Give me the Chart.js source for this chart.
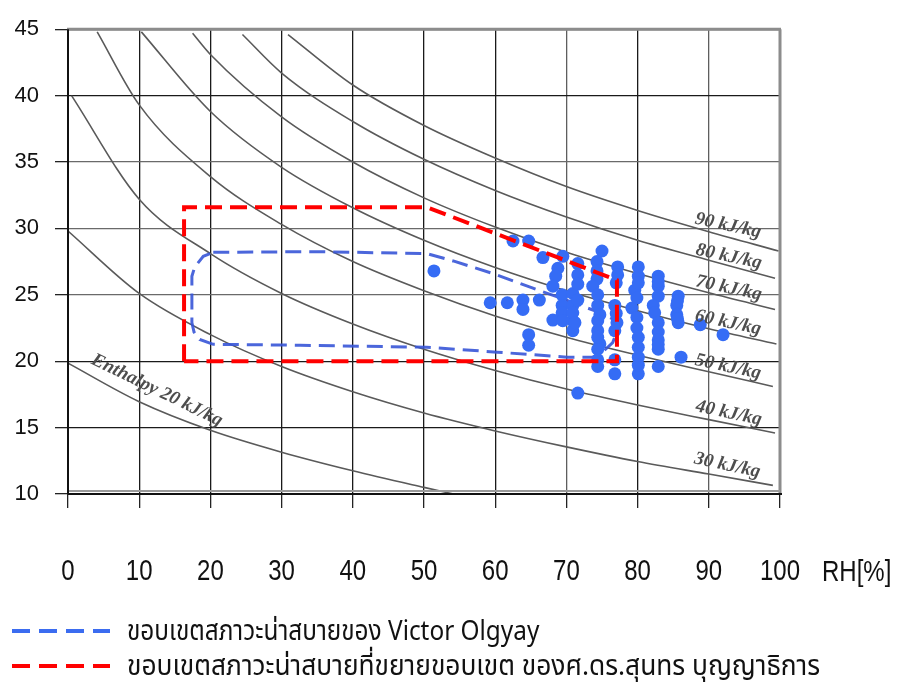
<!DOCTYPE html>
<html>
<head>
<meta charset="utf-8">
<script src="https://cdn.jsdelivr.net/npm/chart.js@4/dist/chart.umd.min.js"></script>
<style>
  html, body { margin: 0; padding: 0; background: #fff; }
  #wrap { position: relative; width: 899px; height: 684px; }
  #chart { position: absolute; left: 0; top: 0; }
  .axis-title { position: absolute; left: 822px; top: 553px; font-family: 'Liberation Sans', Arial, sans-serif; font-size: 30px; color: #111; line-height: 36px; transform: scaleX(0.8); transform-origin: left center; white-space: nowrap; }
  .legend-row { position: absolute; left: 12px; height: 36px; display: flex; align-items: center; }
  .legend-dash { width: 98px; height: 4px; margin-right: 17px; flex: none; }
  .legend-text { font-family: 'Noto Sans Thai', 'Loma', 'Garuda', 'Tlwg Typo', 'DejaVu Sans', sans-serif; font-size: 28px; color: #111; white-space: nowrap; transform-origin: left center; }
</style>
</head>
<body>
<div id="wrap">
  <canvas id="chart" width="899" height="684"></canvas>
  <div class="axis-title">RH[%]</div>
  <div class="legend-row" style="top:613px">
    <div class="legend-dash" style="background: repeating-linear-gradient(to right, #3b6cf0 0 18px, transparent 18px 27px);"></div>
    <div class="legend-text" style="transform: scaleX(0.87);">ขอบเขตสภาวะน่าสบายของ Victor Olgyay</div>
  </div>
  <div class="legend-row" style="top:648px">
    <div class="legend-dash" style="background: repeating-linear-gradient(to right, #ff0000 0 18px, transparent 18px 27px);"></div>
    <div class="legend-text" style="transform: scaleX(0.94);">ขอบเขตสภาวะน่าสบายที่ขยายขอบเขต ของศ.ดร.สุนทร บุญญาธิการ</div>
  </div>
</div>
<script>
// Axis ticks
const rhTicks = [0, 10, 20, 30, 40, 50, 60, 70, 80, 90, 100];
const tempTicks = [10, 15, 20, 25, 30, 35, 40, 45];

// Constant-enthalpy lines: [RH %, dry-bulb °C]
const enthalpy20 = [[0, 19.85], [10, 16.95], [20, 14.8], [30, 13.15], [40, 11.75], [50, 10.5], [55, 9.9]];
const enthalpy30 = [[0, 29.8], [10, 25.1], [20, 22.0], [30, 19.6], [40, 17.7], [50, 16.1], [60, 14.75], [70, 13.55], [80, 12.45], [90, 11.5], [99, 10.65]];
const enthalpy40 = [[0.5, 40.0], [10, 32.2], [20, 28.1], [30, 25.1], [40, 22.8], [50, 20.9], [60, 19.3], [70, 17.9], [80, 16.7], [90, 15.6], [99.3, 14.6]];
const enthalpy50 = [[4.1, 44.8], [10, 39.3], [20, 33.9], [30, 30.3], [40, 27.5], [50, 25.3], [60, 23.4], [70, 21.8], [80, 20.45], [90, 19.2], [99, 18.1]];
const enthalpy60 = [[10.3, 44.8], [20, 38.8], [30, 34.6], [40, 31.55], [50, 29.1], [60, 27.05], [70, 25.3], [80, 23.8], [90, 22.45], [99.5, 21.3]];
const enthalpy70 = [[17.5, 44.7], [20, 43.1], [30, 38.4], [40, 35.0], [50, 32.3], [60, 30.1], [70, 28.2], [80, 26.6], [90, 25.15], [99.3, 23.9]];
const enthalpy80 = [[24.5, 44.6], [30, 41.7], [40, 38.05], [50, 35.2], [60, 32.85], [70, 30.85], [80, 29.1], [90, 27.6], [99.3, 26.25]];
const enthalpy90 = [[30.9, 44.6], [40, 40.8], [50, 37.75], [60, 35.3], [70, 33.15], [80, 31.35], [90, 29.75], [99.8, 28.3]];
const enthalpyLines = [enthalpy20, enthalpy30, enthalpy40, enthalpy50, enthalpy60, enthalpy70, enthalpy80, enthalpy90];

// Enthalpy line captions and where they sit (RH, °C, rotation in degrees)
const enthalpyCaptions = ['Enthalpy 20 kJ/kg', '30 kJ/kg', '40 kJ/kg', '50 kJ/kg', '60 kJ/kg', '70 kJ/kg', '80 kJ/kg', '90 kJ/kg'];
const captionRH = [12.5, 92.6, 92.8, 92.7, 92.7, 92.8, 92.8, 92.7];
const captionTemp = [17.8, 12.15, 16.08, 19.57, 22.9, 25.5, 27.87, 30.2];
const captionAngle = [26, 12, 12, 12, 12, 12, 12, 12];

// Measured conditions
const measuredRH = [51.4, 59.3, 61.7, 63.9, 63.9, 66.2, 62.5, 64.7, 66.7, 69.5, 71.6, 71.6, 68.8, 68.5, 68.1, 69.4, 70.9, 69.4, 69.4, 68.1,
  69.5, 70.9, 70.9, 64.7, 64.7, 71.6, 75.0, 74.3, 74.3, 74.3, 73.7, 70.9, 70.9, 71.2, 74.4, 74.4, 74.7, 74.4, 74.4, 74.7,
  74.4, 74.4, 74.4, 77.2, 77.2, 76.8, 77.1, 76.8, 76.8, 76.8, 80.1, 80.1, 79.6, 79.9, 79.2, 79.9, 79.9, 80.1, 80.1, 80.1,
  80.1, 82.9, 82.9, 82.9, 82.2, 82.4, 82.9, 82.9, 82.9, 82.9, 82.9, 85.7, 85.5, 85.5, 85.7, 86.1, 88.8, 92.0,
  74.4, 80.1, 80.1, 82.9, 82.9, 85.6, 85.6, 77.0, 77.0, 71.6, 71.6];
const measuredTemp = [26.8, 24.4, 24.4, 24.6, 23.9, 24.6, 29.05, 29.05, 27.8, 27.9, 27.35, 26.5, 27.0, 26.4, 25.65, 25.0, 25.1, 24.2, 23.65, 23.1,
  23.05, 23.05, 22.3, 22.0, 21.2, 17.6, 28.3, 27.5, 26.8, 26.2, 25.65, 24.2, 23.65, 22.9, 25.0, 24.2, 23.5, 23.05, 22.3, 21.3,
  20.9, 20.1, 19.6, 27.1, 26.5, 24.2, 22.9, 22.3, 20.1, 19.05, 27.1, 26.4, 25.35, 24.76, 24.0, 23.3, 22.5, 21.8, 21.05, 20.3,
  19.05, 26.4, 25.65, 24.9, 24.2, 23.65, 22.9, 22.2, 21.6, 20.9, 19.6, 24.9, 24.2, 23.5, 22.9, 20.3, 22.75, 22.0,
  21.8, 25.9, 19.7, 26.0, 21.25, 24.55, 23.2, 23.6, 25.9, 25.8, 24.6];

// Comfort zone of Victor Olgyay (closed outline)
const olgyayRH = [20.4, 35, 50.4, 54.1, 59.7, 65.3, 70.5, 74.5, 76.8, 77.1, 76.5, 75.1, 73.7, 70.1, 60.3, 50.4, 32.6, 20.4, 18.5, 17.7, 17.4, 17.4, 17.8, 19.0, 20.4];
const olgyayTemp = [28.2, 28.25, 28.1, 27.55, 26.6, 25.5, 24.5, 23.7, 23.1, 22.2, 21.4, 20.7, 20.3, 20.3, 20.68, 21.05, 21.2, 21.27, 21.64, 22.2, 22.9, 26.4, 27.1, 27.9, 28.2];

// Extended comfort zone (closed outline)
const extendedRH = [16.3, 16.3, 50.4, 77.1, 77.1, 16.3];
const extendedTemp = [20.0, 31.6, 31.6, 26.1, 20.0, 20.0];

const toPoints = (xs, ys) => xs.map((x, i) => ({ x: x, y: ys[i] }));
const pairsToPoints = pairs => pairs.map(p => ({ x: p[0], y: p[1] }));

const datasets = [];
enthalpyLines.forEach(line => {
  datasets.push({
    type: 'line', data: pairsToPoints(line), borderColor: '#5a5a5a', borderWidth: 1.6,
    pointRadius: 0, cubicInterpolationMode: 'monotone', fill: false, order: 4
  });
});
datasets.push({
  type: 'line', data: toPoints(olgyayRH, olgyayTemp), borderColor: 'rgba(55,85,215,0.9)', borderWidth: 3,
  borderDash: [16, 8], pointRadius: 0, tension: 0, fill: false, order: 3
});
datasets.push({
  type: 'scatter', data: toPoints(measuredRH, measuredTemp), backgroundColor: '#356cf5', borderWidth: 0,
  pointRadius: 6.5, pointHoverRadius: 6.5, order: 2
});
datasets.push({
  type: 'line', data: toPoints(extendedRH, extendedTemp), borderColor: '#ff0000', borderWidth: 4,
  borderDash: [17, 8], pointRadius: 0, tension: 0, fill: false, order: 1
});

const darkRH = [0, 10, 20, 30, 40, 50, 60, 80];
const darkTemp = [10, 15, 20, 40];

// Frame around the plot area, narrow RH tick labels and the enthalpy captions
const framePlugin = {
  id: 'frame',
  afterDatasetsDraw(chart) {
    const { ctx, chartArea: a, scales } = chart;
    ctx.save();
    ctx.fillStyle = '#4e4e4e';
    ctx.font = 'italic 600 19px "Liberation Serif", "DejaVu Serif", serif';
    ctx.textAlign = 'center';
    ctx.textBaseline = 'middle';
    enthalpyCaptions.forEach((t, i) => {
      const px = scales.x.getPixelForValue(captionRH[i]);
      const py = scales.y.getPixelForValue(captionTemp[i]);
      ctx.save();
      ctx.translate(px, py);
      ctx.rotate(captionAngle[i] * Math.PI / 180);
      ctx.fillText(t, 0, 0);
      ctx.restore();
    });
    // border
    ctx.lineCap = 'butt';
    ctx.strokeStyle = '#8c8c8c';
    ctx.lineWidth = 3;
    ctx.beginPath();
    ctx.moveTo(a.left - 1, a.top); ctx.lineTo(a.right + 1, a.top);
    ctx.moveTo(a.right, a.top); ctx.lineTo(a.right, a.bottom);
    ctx.stroke();
    ctx.strokeStyle = '#9a9a9a';
    ctx.lineWidth = 2;
    ctx.beginPath();
    ctx.moveTo(a.left, a.bottom - 3); ctx.lineTo(a.right, a.bottom - 3);
    ctx.stroke();
    ctx.strokeStyle = '#111';
    ctx.lineWidth = 2;
    ctx.beginPath();
    ctx.moveTo(a.left, a.top); ctx.lineTo(a.left, a.bottom);
    ctx.moveTo(a.left, a.bottom); ctx.lineTo(a.right + 2, a.bottom);
    ctx.stroke();
    // RH tick labels, drawn condensed
    ctx.fillStyle = '#111';
    ctx.font = '30px "Liberation Sans", Arial, sans-serif';
    ctx.textAlign = 'center';
    ctx.textBaseline = 'middle';
    rhTicks.forEach(v => {
      ctx.save();
      ctx.translate(scales.x.getPixelForValue(v), 572);
      ctx.scale(0.8, 1);
      ctx.fillText(String(v), 0, 0);
      ctx.restore();
    });
    ctx.restore();
  }
};

new Chart(document.getElementById('chart'), {
  data: { datasets: datasets },
  options: {
    responsive: false,
    animation: false,
    events: [],
    layout: { padding: { left: 0, right: 119, top: 22, bottom: 0 } },
    plugins: { legend: { display: false }, tooltip: { enabled: false } },
    scales: {
      x: {
        type: 'linear', min: 0, max: 100,
        afterFit: s => { s.height = 190; },
        afterBuildTicks: s => { s.ticks = rhTicks.map(v => ({ value: v })); },
        border: { display: false },
        grid: {
          color: c => darkRH.includes(c.tick.value) ? '#1a1a1a' : '#5e5e5e',
          tickColor: '#222', lineWidth: 1.3, tickLength: 14
        },
        ticks: { display: false }
      },
      y: {
        type: 'linear', min: 10, max: 45,
        afterFit: s => { s.width = 68; },
        afterBuildTicks: s => { s.ticks = tempTicks.map(v => ({ value: v })); },
        border: { display: false },
        grid: {
          color: c => darkTemp.includes(c.tick.value) ? '#1a1a1a' : '#6a6a6a',
          tickColor: '#222', lineWidth: 1.3, tickLength: 13
        },
        ticks: {
          padding: 16, color: '#111', autoSkip: false,
          font: { family: '"Liberation Sans", Arial, sans-serif', size: 22 }
        }
      }
    }
  },
  plugins: [framePlugin]
});
</script>
</body>
</html>
